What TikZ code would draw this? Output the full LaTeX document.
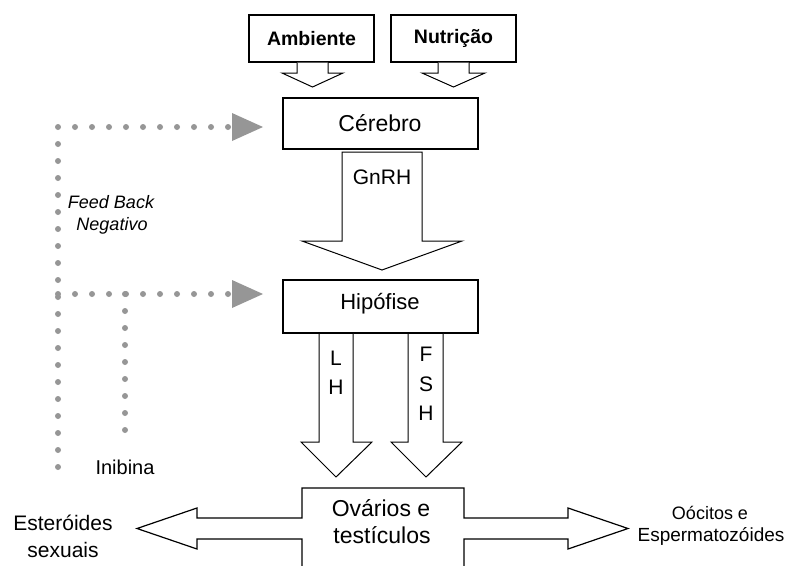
\documentclass[tikz,border=0pt]{standalone}
\usepackage{fontspec}
\setmainfont{Liberation Sans}
\definecolor{dotgray}{RGB}{150,150,150}
\begin{document}
\begin{tikzpicture}[x=1pt,y=-1pt,
  box/.style={draw, line width=1.3pt, inner sep=0pt, fill=white},
  blk/.style={draw, line width=1pt, fill=white, line join=miter},
  fb/.style={draw=dotgray, line width=6pt, line cap=round, dash pattern=on 0pt off 17pt},
  fbtip/.style={fill=dotgray},
  lbl/.style={inner sep=0pt, font=\fontsize{22}{26}\selectfont},
  sm/.style={inner sep=0pt, font=\fontsize{19}{23}\selectfont},
  it/.style={inner sep=0pt, font=\fontsize{18}{22}\selectfont\itshape}]
\useasboundingbox (0,0) rectangle (792,565);

% feedback dotted lines
\coordinate (f1) at (228,127);
\coordinate (c1) at (58,127);
\coordinate (c2) at (58,467);
\coordinate (f2) at (228,294);
\coordinate (c3) at (58,294);
\coordinate (i1) at (125,294);
\coordinate (i2) at (125,435);
\draw[fb] (f1) -- (c1) -- (c2);
\draw[fb] (f2) -- (c3);
\draw[fb] (i1) -- (i2);
\fill[fbtip] (232,113) -- (263,127) -- (232,141) -- cycle;
\fill[fbtip] (232,280) -- (263,294) -- (232,308) -- cycle;

% top boxes
\node[box, minimum width=125pt, minimum height=47pt, font=\fontsize{19.5}{23}\selectfont\bfseries] (amb) at (311.5,38.5) {Ambiente};
\node[box, minimum width=125pt, minimum height=47pt, font=\fontsize{19.5}{23}\selectfont\bfseries] (nut) at (453.5,38.5) {Nutrição};
\draw[blk] (297,62.5) -- (297,73) -- (282,73) -- (312.5,87) -- (343,73) -- (328,73) -- (328,62.5);
\draw[blk] (438,62.5) -- (438,73) -- (422,73) -- (453.5,87) -- (485,73) -- (469,73) -- (469,62.5);

% brain
\node[box, minimum width=195pt, minimum height=51pt] (cer) at (380.5,123.5) {};
\node[lbl, font=\fontsize{23}{27}\selectfont] (cert) at (380,123) {Cérebro};

% GnRH arrow
\draw[blk] (342,152) -- (342,241) -- (302,241) -- (382,270) -- (462,241) -- (422,241) -- (422,152) -- cycle;
\node[lbl, font=\fontsize{21}{25}\selectfont] (gnrh) at (382,177) {GnRH};

% hypophysis
\node[box, minimum width=195pt, minimum height=53pt] (hip) at (380.5,306.5) {};
\node[lbl] (hipt) at (380,304) {Hipófise};

% LH and FSH arrows
\draw[blk] (319,333) -- (319,442) -- (301,442) -- (336,477) -- (372,442) -- (353,442) -- (353,333);
\draw[blk] (408,333) -- (408,442) -- (391,442) -- (426,477) -- (462,442) -- (443,442) -- (443,333);
\draw[line width=1.6pt] (319,333) -- (353,333) (408,333) -- (443,333);
\node[lbl, font=\fontsize{21}{25}\selectfont] (l1) at (336,358) {L};
\node[lbl, font=\fontsize{21}{25}\selectfont] (l2) at (336,387) {H};
\node[lbl, font=\fontsize{21}{25}\selectfont] (f1t) at (426,354) {F};
\node[lbl, font=\fontsize{21}{25}\selectfont] (f2t) at (426,384) {S};
\node[lbl, font=\fontsize{21}{25}\selectfont] (f3t) at (426,413) {H};

% gonads with side arrows
\draw[line width=1.2pt, fill=white, line join=miter]
  (302,572) -- (302,539) -- (197,539) -- (197,549) -- (137,528.5) -- (197,508) -- (197,518)
  -- (302,518) -- (302,488) -- (464,488) -- (464,518) -- (568,518) -- (568,508)
  -- (628,528.5) -- (568,549) -- (568,539) -- (464,539) -- (464,572);
\node[lbl, font=\fontsize{23}{27}\selectfont] (ov1) at (381,508) {Ovários e};
\node[lbl, font=\fontsize{23}{27}\selectfont] (ov2) at (382,535) {testículos};

\node[lbl, font=\fontsize{21}{25}\selectfont] (es1) at (63,523) {Esteróides};
\node[lbl, font=\fontsize{21}{25}\selectfont] (es2) at (63,550) {sexuais};
\node[sm, font=\fontsize{18}{22}\selectfont] (oc1) at (710,513) {Oócitos e};
\node[sm] (oc2) at (711,536) {Espermatozóides};

% labels for feedback
\node[it] (fb1) at (111,202) {Feed Back};
\node[it] (fb2) at (112,226) {Negativo};
\node[lbl, font=\fontsize{20}{24}\selectfont] (inib) at (125,467) {Inibina};
\end{tikzpicture}
\end{document}
